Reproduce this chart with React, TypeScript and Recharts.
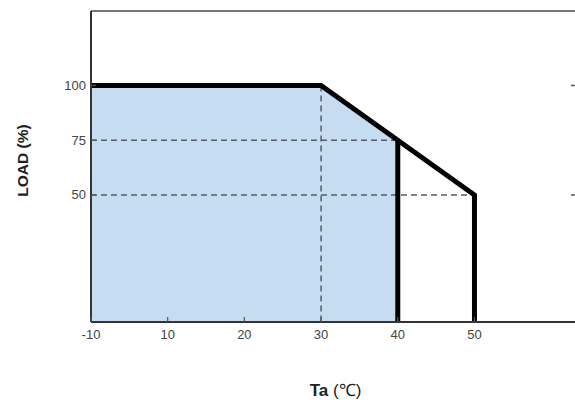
import React from "react";
import {
  ComposedChart,
  Area,
  Line,
  XAxis,
  YAxis,
  Label,
  ReferenceLine,
} from "recharts";

// derating curve, ambient temperature (°C) vs load (%)
const taTicks = [-10, 10, 20, 30, 40, 50];
const loadTicks = [50, 75, 100];
const rightTicks = [50, 100];

const loadFloor = -8;
const loadCeil = 134;

const curveTa = [-10, 30, 50, 50];
const curveLoad = [100, 100, 50, loadFloor];

const areaTa = [-10, 30, 40];
const areaLoad = [100, 100, 75];

const drop40Ta = [40, 40];
const drop40Load = [75, loadFloor];

const guide75Ta = [-10, 40];
const guide75Load = [75, 75];
const guide50Ta = [-10, 50];
const guide50Load = [50, 50];
const guide30Ta = [30, 30];
const guide30Load = [100, loadFloor];

// axis is broken between -10 and 10: -10 sits where 0 would be
const axisPos = (t: number) => (t < 0 ? 0 : t);
const posLabel = (p: number) => (p === 0 ? "-10" : String(p));

const toRows = (ta: number[], load: number[]) =>
  ta.map((t, i) => ({ x: axisPos(t), load: load[i] }));

const curve = toRows(curveTa, curveLoad);
const area = toRows(areaTa, areaLoad);
const drop40 = toRows(drop40Ta, drop40Load);
const guide75 = toRows(guide75Ta, guide75Load);
const guide50 = toRows(guide50Ta, guide50Load);
const guide30 = toRows(guide30Ta, guide30Load);

const tickFont = '"Liberation Sans", Arial, sans-serif';
const titleFont = '"Liberation Sans", Arial, sans-serif';

const XTick = (props: any) => {
  const { x, y, payload } = props;
  return (
    <g>
      <line x1={x} x2={x} y1={y} y2={y - 5} stroke="#555" strokeWidth={1.2} />
      <text x={x} y={y + 17} textAnchor="middle" fill="#444" fontSize={13} fontFamily={tickFont}>
        {posLabel(payload.value)}
      </text>
    </g>
  );
};

const YTick = (props: any) => {
  const { x, y, payload } = props;
  return (
    <g>
      <line x1={x} x2={x + 5} y1={y} y2={y} stroke="#555" strokeWidth={1.2} />
      <text x={x - 5} y={y + 4.5} textAnchor="end" fill="#444" fontSize={13} fontFamily={tickFont}>
        {payload.value}
      </text>
    </g>
  );
};

const RightTick = (props: any) => {
  const { x, y } = props;
  return <line x1={x} x2={x - 7} y1={y} y2={y} stroke="#555" strokeWidth={1.5} />;
};

const YTitle = (props: any) => {
  const { x, y, height } = props.viewBox;
  const cx = x + 22;
  const cy = y + height / 2 - 6;
  return (
    <text
      x={cx}
      y={cy}
      transform={`rotate(-90, ${cx}, ${cy})`}
      textAnchor="middle"
      dominantBaseline="central"
      fontSize={15.5}
      fontWeight="bold"
      fill="#222"
      fontFamily={titleFont}
    >
      LOAD (%)
    </text>
  );
};

const XTitle = (props: any) => {
  const { x, y, width } = props.viewBox;
  return (
    <text x={x + width / 2 + 1} y={y + 74} textAnchor="middle" fontSize={17} fill="#222" fontFamily={titleFont}>
      <tspan fontWeight="bold">Ta</tspan>
      <tspan> (℃)</tspan>
    </text>
  );
};

const guideStyle = { stroke: "#555e68", strokeWidth: 1.5, strokeDasharray: "6 4" };

const App: React.FC = () => {
  return (
    <div style={{ position: "absolute", left: 0, top: 0, background: "#fff" }}>
      <ComposedChart width={600} height={400} margin={{ top: 11, right: 0, bottom: 0, left: 0 }}>
        <XAxis
          xAxisId="main"
          type="number"
          dataKey="x"
          domain={[0, 63.5]}
          ticks={taTicks.map(axisPos)}
          allowDataOverflow
          height={78}
          tickSize={0}
          tickMargin={0}
          tickLine={false}
          tick={<XTick />}
          axisLine={{ stroke: "#333", strokeWidth: 2 }}
        >
          <Label content={<XTitle />} />
        </XAxis>
        <YAxis
          yAxisId="main"
          type="number"
          domain={[loadFloor, loadCeil]}
          ticks={loadTicks}
          allowDataOverflow
          width={91}
          tickSize={0}
          tickMargin={0}
          tickLine={false}
          tick={<YTick />}
          axisLine={{ stroke: "#333", strokeWidth: 2 }}
        >
          <Label content={<YTitle />} />
        </YAxis>
        <YAxis
          yAxisId="right"
          orientation="right"
          type="number"
          domain={[loadFloor, loadCeil]}
          ticks={rightTicks}
          allowDataOverflow
          width={22}
          tickSize={0}
          tickMargin={0}
          tickLine={false}
          tick={<RightTick />}
          axisLine={{ stroke: "#777", strokeWidth: 2 }}
        />

        <Area
          xAxisId="main"
          yAxisId="main"
          data={area}
          dataKey="load"
          type="linear"
          baseValue="dataMin"
          fill="#c6dcf1"
          fillOpacity={1}
          stroke="none"
          isAnimationActive={false}
        />
        <ReferenceLine xAxisId="main" yAxisId="main" y={loadCeil} stroke="#777" strokeWidth={2} />
        <Line xAxisId="main" yAxisId="main" data={guide75} dataKey="load" type="linear" dot={false} {...guideStyle} isAnimationActive={false} />
        <Line xAxisId="main" yAxisId="main" data={guide50} dataKey="load" type="linear" dot={false} {...guideStyle} isAnimationActive={false} />
        <Line xAxisId="main" yAxisId="main" data={guide30} dataKey="load" type="linear" dot={false} {...guideStyle} isAnimationActive={false} />
        <Line
          xAxisId="main"
          yAxisId="main"
          data={drop40}
          dataKey="load"
          type="linear"
          dot={false}
          stroke="#000"
          strokeWidth={5}
          isAnimationActive={false}
        />
        <Line
          xAxisId="main"
          yAxisId="main"
          data={curve}
          dataKey="load"
          type="linear"
          dot={false}
          stroke="#000"
          strokeWidth={5}
          strokeLinejoin="miter"
          isAnimationActive={false}
        />
      </ComposedChart>
    </div>
  );
};

export default App;
